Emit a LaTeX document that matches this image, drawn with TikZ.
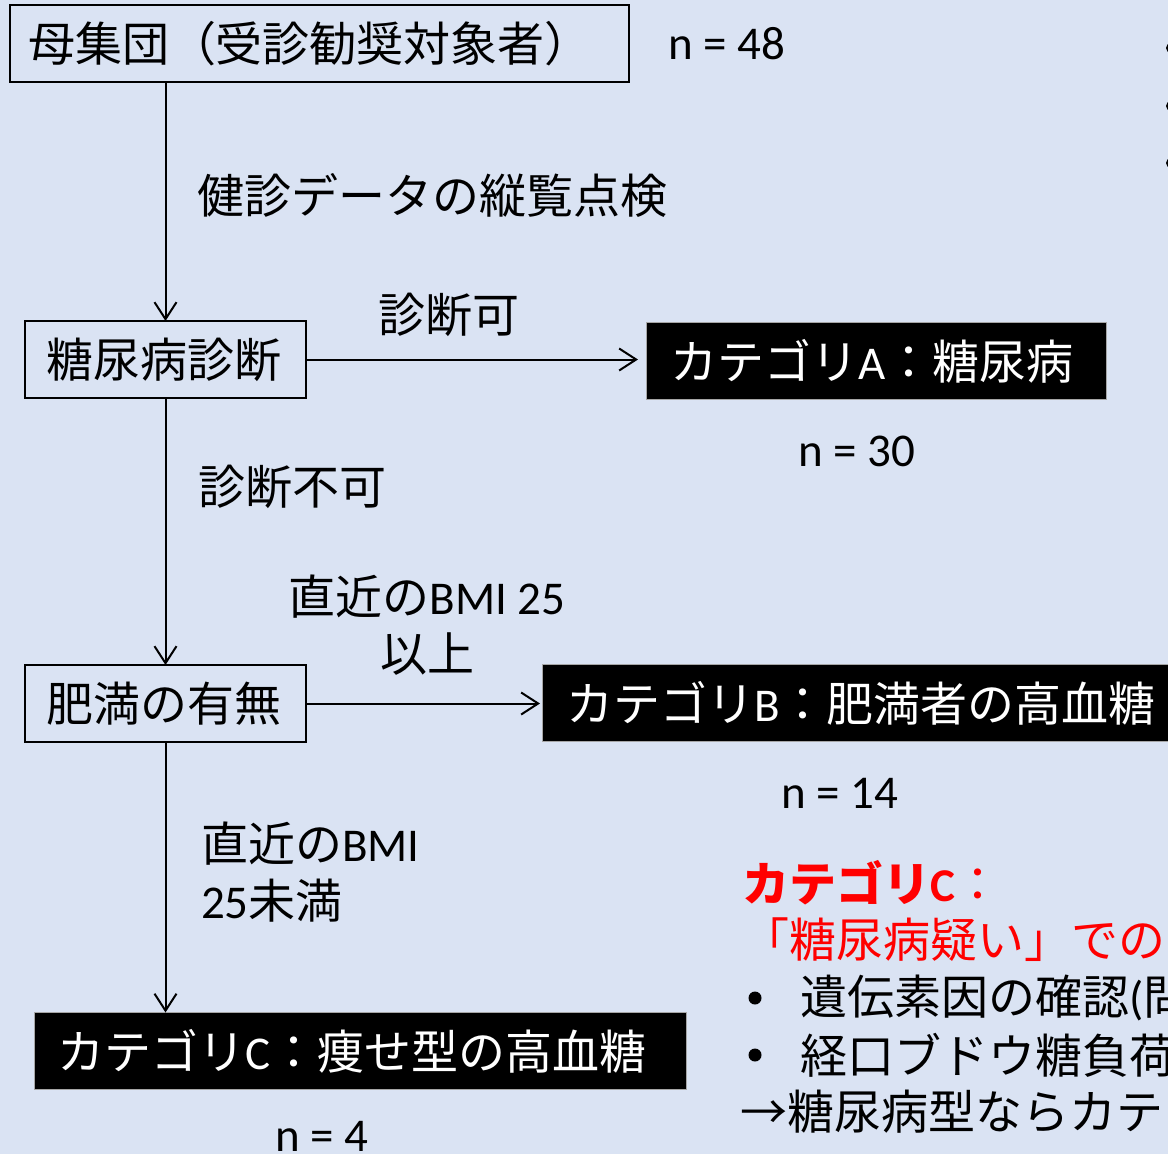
\documentclass[tikz,border=0pt]{standalone}
\usepackage{fontspec}
\setmainfont{Noto Sans CJK JP}
\newfontfamily\lt{Carlito}
\usetikzlibrary{arrows.meta,calc}
\definecolor{bg}{RGB}{218,227,243}
\definecolor{cred}{RGB}{255,0,0}
\begin{document}
\begin{tikzpicture}[x=1pt,y=-1pt,
  font=\fontsize{47}{57}\selectfont,
  every node/.style={inner sep=0pt, outer sep=0pt},
  wbox/.style={draw=black, line width=2pt, anchor=west, minimum height=77pt, align=left},
  kbox/.style={fill=black, draw=gray!70, line width=0.8pt, text=white, anchor=west, minimum height=77pt, align=left},
  lbl/.style={anchor=west, align=left},
  dot/.style={circle, fill=black, minimum size=13pt},
  arr/.style={line width=2pt, -{Straight Barb[length=17pt,width=22pt,line width=2pt]}}]
\useasboundingbox (0,0) rectangle (1168,1154);
\clip (0,0) rectangle (1168,1154);
\fill[bg] (0,0) rectangle (1168,1154);

% boxes
\node[wbox, inner xsep=18pt, text width=583pt] (b1) at (10,43.5) {母集団（受診勧奨対象者）};
\node[wbox, inner xsep=21pt, text width=239pt] (b2) at (25,359.5) {糖尿病診断};
\node[wbox, inner xsep=21pt, text width=239pt] (b3) at (25,703.5) {肥満の有無};
\node[kbox, inner xsep=24pt, text width=412pt] (catA) at (646,361) {カテゴリ{\lt A}：糖尿病};
\node[kbox, inner xsep=24pt, text width=640pt] (catB) at (542,703) {カテゴリ{\lt B}：肥満者の高血糖};
\node[kbox, inner xsep=23pt, text width=606pt] (catC) at (34,1051) {カテゴリ{\lt C}：痩せ型の高血糖};

% counts
\node[lbl] (n48) at (668,44) {\lt n = 48};
\node[lbl] (n30) at (798,451) {\lt n = 30};
\node[lbl] (n14) at (781,793) {\lt n = 14};
\node[lbl] (n4) at (275,1136) {\lt n = 4};

% edge labels
\node[lbl] (lchk) at (197,195) {健診データの縦覧点検};
\node[lbl] (lok) at (378,315) {診断可};
\node[lbl] (lng) at (198,487) {診断不可};
\node[align=center] (lhi) at (427,625) {直近の{\lt BMI 25}\\以上};
\node[lbl] (llo) at (201,872) {直近の{\lt BMI}\\{\lt 25}未満};

% connectors
\draw[arr] (b1.south -| b2.north) -- (b2.north);
\draw[arr] (b2.south) -- (b3.north);
\draw[arr] (b3.south) -- (catC.north -| b3.south);
\draw[arr, shorten >=8pt] (b2.east) -- (catA.west |- b2.east);
\draw[arr, shorten >=2pt] (b3.east) -- (catB.west |- b3.east);

% right side notes
\node[lbl, text=cred, font=\fontsize{47}{57}\selectfont\bfseries] (rt) at (742,883) {カテゴリ{\lt\bfseries C}{\mdseries ：}};
\node[lbl, text=cred] (rs) at (742,940) {「糖尿病疑い」での};
\node[dot] (bu1) at (755,998) {};
\node[lbl] (t1) at (800,998) {遺伝素因の確認{\lt (}問};
\node[dot] (bu2) at (755,1055) {};
\node[lbl] (t2) at (800,1055) {経口ブドウ糖負荷};
\node[lbl] (cc) at (740,1112) {→糖尿病型ならカテ};

% partially visible bullets at top right
\node[dot, minimum size=10pt] (d1) at (1171,48) {};
\node[dot, minimum size=10pt] (d2) at (1171,106) {};
\node[dot, minimum size=10pt] (d3) at (1171,163) {};
\end{tikzpicture}
\end{document}
